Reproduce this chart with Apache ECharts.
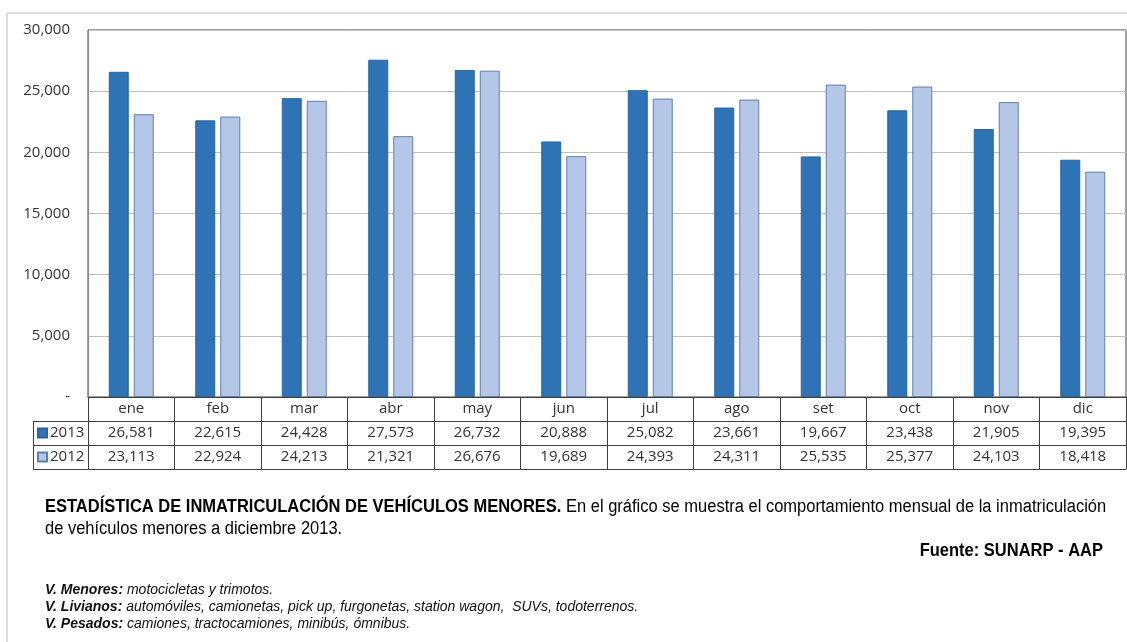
<!DOCTYPE html>
<html><head><meta charset="utf-8">
<script src="https://cdn.jsdelivr.net/npm/echarts@6/dist/echarts.min.js"></script>
<style>html,body{margin:0;padding:0;background:#fff}#c{width:1127px;height:642px}</style>
</head><body><div id="c"></div>
<script>
const months = ['ene','feb','mar','abr','may','jun','jul','ago','set','oct','nov','dic'];
const v2013 = [26581,22615,24428,27573,26732,20888,25082,23661,19667,23438,21905,19395];
const v2012 = [23113,22924,24213,21321,26676,19689,24393,24311,25535,25377,24103,18418];
const yTicks = [0,5000,10000,15000,20000,25000,30000];
const seriesNames = ['2013','2012'];

const fmt = v => v === 0 ? '-' : v.toLocaleString('en-US');
const numFont = "'Open Sans', sans-serif";
const sans = "'Liberation Sans', Arial, sans-serif";
const lineCol = '#404040';

function rowAxis(offset, values, showLabel) {
  return {
    type: 'category', data: months, position: 'bottom', offset: offset,
    axisLine: { show: true, lineStyle: { color: lineCol, width: 1 } },
    axisTick: { show: false },
    axisLabel: { show: showLabel, margin: 0, lineHeight: 24, fontSize: 15, fontFamily: numFont, color: '#333',
      formatter: (v, i) => values ? values[i].toLocaleString('en-US') : v },
    splitLine: { show: false }
  };
}

const noteRich = { b: { fontWeight: 'bold', fontStyle: 'italic', fontSize: 14, fontFamily: sans, fill: '#111' } };

const chart = echarts.init(document.getElementById('c'), null, { renderer: 'canvas' });
chart.setOption({
  animation: false,
  backgroundColor: '#fff',
  grid: { left: 88, top: 30, right: 1, bottom: 245, show: true, borderColor: lineCol, borderWidth: 1 },
  legend: {
    orient: 'vertical', left: 37, top: 421, padding: 0, itemWidth: 9, itemHeight: 9, itemGap: 0,
    icon: 'rect', selectedMode: false,
    textStyle: { fontSize: 15, fontFamily: numFont, color: '#333', lineHeight: 24, padding: [0,0,0,-2] },
    data: seriesNames
  },
  xAxis: [
    {
      type: 'category', data: months, position: 'bottom',
      axisLine: { show: true, lineStyle: { color: lineCol, width: 1 } },
      axisTick: { show: true, length: 72, lineStyle: { color: lineCol } },
      axisLabel: { margin: 0, lineHeight: 24, fontSize: 15, fontFamily: numFont, color: '#333' }
    },
    rowAxis(24, v2013, true),
    rowAxis(48, v2012, true),
    rowAxis(72, null, false)
  ],
  yAxis: {
    type: 'value', min: yTicks[0], max: yTicks[yTicks.length-1], interval: yTicks[1]-yTicks[0],
    axisLine: { show: true, lineStyle: { color: '#8a8a8a' } },
    axisTick: { show: false },
    splitLine: { lineStyle: { color: '#c0c0c0' } },
    axisLabel: { margin: 18, fontSize: 15, fontFamily: numFont, color: '#333', formatter: v => fmt(v) }
  },
  series: [
    { name: seriesNames[0], type: 'bar', data: v2013, barWidth: 20, barGap: '25%',
      itemStyle: { color: '#2E73B5', borderColor: '#2A65A0', borderWidth: 1 } },
    { name: seriesNames[1], type: 'bar', data: v2012, barWidth: 20,
      itemStyle: { color: '#B4C7E7', borderColor: '#5F7FAE', borderWidth: 1 } }
  ],
  graphic: [
    { type: 'line', shape: { x1: 7, y1: 13, x2: 1127, y2: 13 }, style: { stroke: '#dcdcdc', lineWidth: 2 } },
    { type: 'line', shape: { x1: 7, y1: 13, x2: 7, y2: 642 }, style: { stroke: '#dcdcdc', lineWidth: 2 } },
    { type: 'line', shape: { x1: 33, y1: 421.5, x2: 88, y2: 421.5 }, style: { stroke: lineCol, lineWidth: 1 } },
    { type: 'line', shape: { x1: 33, y1: 445.5, x2: 88, y2: 445.5 }, style: { stroke: lineCol, lineWidth: 1 } },
    { type: 'line', shape: { x1: 33, y1: 469.5, x2: 88, y2: 469.5 }, style: { stroke: lineCol, lineWidth: 1 } },
    { type: 'line', shape: { x1: 33.5, y1: 421, x2: 33.5, y2: 470 }, style: { stroke: lineCol, lineWidth: 1 } },
    { type: 'text', x: 45, y: 507, scaleY: 1.1, style: {
        text: '{b|ESTADÍSTICA DE INMATRICULACIÓN DE VEHÍCULOS MENORES.} En el gráfico se muestra el comportamiento mensual de la inmatriculación',
        font: '16.5px ' + sans, fill: '#000', verticalAlign: 'middle',
        rich: { b: { fontWeight: 'bold', fontSize: 16.5, fontFamily: sans, fill: '#000' } } } },
    { type: 'text', x: 45, y: 529, scaleY: 1.1, style: { text: 'de vehículos menores a diciembre 2013.', font: '16.5px ' + sans, fill: '#000', verticalAlign: 'middle' } },
    { type: 'text', x: 1103, y: 551, scaleY: 1.1, style: { text: 'Fuente: SUNARP - AAP', font: 'bold 16.5px ' + sans, fill: '#000', align: 'right', verticalAlign: 'middle' } },
    { type: 'text', x: 45, y: 590, style: { text: '{b|V. Menores:} motocicletas y trimotos.', font: 'italic 14px ' + sans, fill: '#111', verticalAlign: 'middle', rich: noteRich } },
    { type: 'text', x: 45, y: 607, style: { text: '{b|V. Livianos:} automóviles, camionetas, pick up, furgonetas, station wagon,  SUVs, todoterrenos.', font: 'italic 14px ' + sans, fill: '#111', verticalAlign: 'middle', rich: noteRich } },
    { type: 'text', x: 45, y: 624, style: { text: '{b|V. Pesados:} camiones, tractocamiones, minibús, ómnibus.', font: 'italic 14px ' + sans, fill: '#111', verticalAlign: 'middle', rich: noteRich } }
  ]
});
</script></body></html>
